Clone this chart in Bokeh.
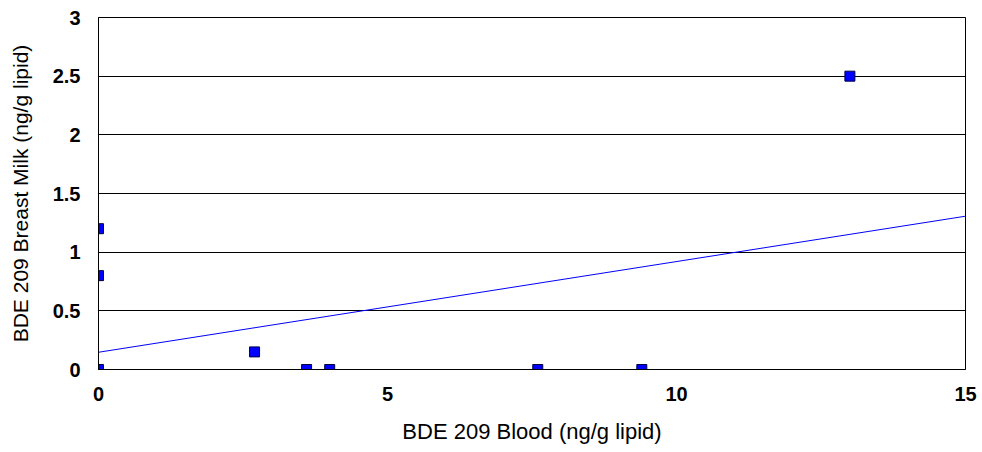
from bokeh.plotting import figure
from bokeh.models import Range1d, FixedTicker, ColumnDataSource
from bokeh.embed import file_html
from bokeh.resources import INLINE

# Data
blood = [0.0, 0.0, 0.0, 2.7, 3.6, 4.0, 7.6, 9.4, 13.0]
milk = [0.0, 0.8, 1.2, 0.15, 0.0, 0.0, 0.0, 0.0, 2.5]

trend_intercept = 0.147
trend_slope = 0.0773

x_ticks = [0, 5, 10, 15]
x_tick_labels = ["0", "5", "10", "15"]
y_ticks = [0, 0.5, 1, 1.5, 2, 2.5, 3]
y_tick_labels = ["0", "0.5", "1", "1.5", "2", "2.5", "3"]

x_label = "BDE 209 Blood (ng/g lipid)"
y_label = "BDE 209 Breast Milk (ng/g lipid)"

FONT = "Liberation Sans"

p = figure(width=982, height=452, output_backend="svg", toolbar_location=None,
           x_range=Range1d(0, 15), y_range=Range1d(0, 3),
           min_border_left=98, min_border_right=17, min_border_top=17, min_border_bottom=83)

p.background_fill_color = "white"
p.border_fill_color = "white"
p.outline_line_color = "black"
p.outline_line_width = 1

# Grid
p.xgrid.grid_line_color = None
p.ygrid.grid_line_color = "black"
p.ygrid.grid_line_width = 1
p.ygrid.ticker = FixedTicker(ticks=y_ticks)

# Trend line
tx = [x_ticks[0], x_ticks[-1]]
ty = [trend_intercept + trend_slope * v for v in tx]
p.line(tx, ty, line_color="#0000FF", line_width=1)

# Points
src = ColumnDataSource(dict(x=blood, y=milk))
p.scatter("x", "y", source=src, marker="square", size=10,
          fill_color="#0000FF", line_color="#000040", line_width=1)

# Axes
p.xaxis.ticker = FixedTicker(ticks=x_ticks)
p.yaxis.ticker = FixedTicker(ticks=y_ticks)
p.xaxis.major_label_overrides = {t: l for t, l in zip(x_ticks, x_tick_labels)}
p.yaxis.major_label_overrides = {t: l for t, l in zip(y_ticks, y_tick_labels)}

for ax in (p.xaxis[0], p.yaxis[0]):
    ax.major_tick_line_color = None
    ax.minor_tick_line_color = None
    ax.major_tick_out = 0
    ax.major_tick_in = 0
    ax.minor_tick_out = 0
    ax.minor_tick_in = 0
    ax.axis_line_color = "black"
    ax.major_label_text_font = FONT
    ax.major_label_text_font_style = "bold"
    ax.major_label_text_font_size = "20px"
    ax.major_label_text_color = "black"
    ax.axis_label_text_font = FONT
    ax.axis_label_text_font_style = "normal"
    ax.axis_label_text_color = "black"

p.xaxis.axis_label = x_label
p.yaxis.axis_label = y_label
p.xaxis.axis_label_text_font_size = "22px"
p.yaxis.axis_label_text_font_size = "21px"
p.xaxis.major_label_standoff = 17
p.yaxis.major_label_standoff = 18
p.xaxis.axis_label_standoff = 15
p.yaxis.axis_label_standoff = 18

open("out.html", "w").write(file_html(p, INLINE))
